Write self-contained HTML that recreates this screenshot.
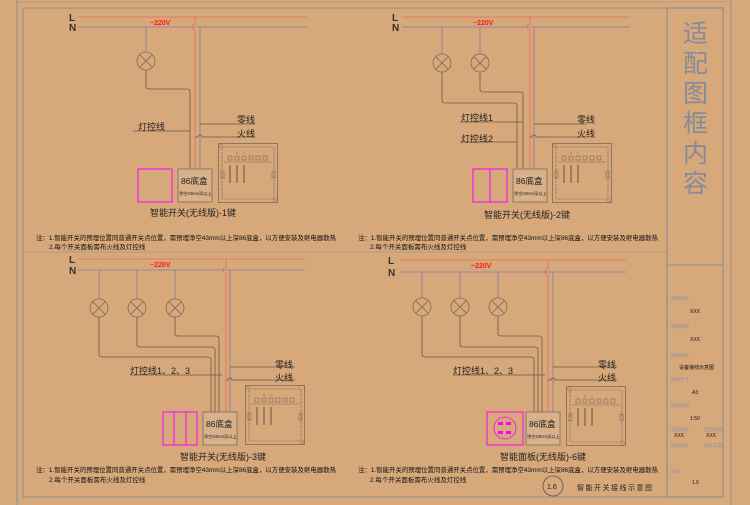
<!DOCTYPE html>
<html><head><meta charset="utf-8"><style>
html,body{margin:0;padding:0;background:#d6a87a;}
svg{display:block}
text{font-family:"Liberation Sans","Noto Sans CJK SC",sans-serif;}
</style></head><body>
<svg width="750" height="505" viewBox="0 0 750 505" xmlns="http://www.w3.org/2000/svg">
<rect width="750" height="505" fill="#d6a87a"/>
<defs>
<symbol id="panel" viewBox="0 0 60 60" width="60" height="60">
<rect x="0.5" y="0.5" width="59" height="59" fill="none" stroke="#7d6a5a" stroke-width="0.8"/>
<rect x="4" y="4" width="52" height="52" fill="none" stroke="#7d6a5a" stroke-width="0.6" stroke-dasharray="3,1"/>
<circle cx="3" cy="3" r="1.5" fill="none" stroke="#7d6a5a" stroke-width="0.5"/>
<circle cx="57" cy="57" r="1.5" fill="none" stroke="#7d6a5a" stroke-width="0.5"/>
<g fill="none" stroke="#7d6a5a" stroke-width="0.6">
<rect x="10" y="13" width="4" height="4"/><rect x="17" y="13" width="4" height="4"/><rect x="24" y="13" width="4" height="4"/><rect x="31" y="13" width="4" height="4"/><rect x="38" y="13" width="4" height="4"/><rect x="45" y="13" width="4" height="4"/>
<line x1="6" y1="19" x2="54" y2="19"/>
<rect x="3" y="28" width="3" height="7"/><rect x="54" y="28" width="3" height="7"/>
</g>
<g stroke="#4a3a30" stroke-width="0.8"><line x1="12" y1="22" x2="12" y2="40"/><line x1="19" y1="22" x2="19" y2="40"/><line x1="26" y1="22" x2="26" y2="40"/></g>
<circle cx="19" cy="10" r="0.8" fill="#e04040"/><circle cx="26" cy="10" r="0.8" fill="#40c040"/>
</symbol>
<symbol id="lamp" viewBox="-10 -10 20 20" width="20" height="20">
<circle r="9" fill="none" stroke="#7d6a5a" stroke-width="0.8"/>
<line x1="-6.3" y1="-6.3" x2="6.3" y2="6.3" stroke="#7d6a5a" stroke-width="0.8"/>
<line x1="6.3" y1="-6.3" x2="-6.3" y2="6.3" stroke="#7d6a5a" stroke-width="0.8"/>
</symbol>
</defs>

<g fill="none" stroke="#8e8f92" stroke-width="1">
<line x1="17" y1="0" x2="17" y2="505"/>
<rect x="23" y="8" width="644" height="489"/>
<line x1="23" y1="252" x2="667" y2="252" stroke-width="0.6"/>
<rect x="667" y="8" width="56" height="489" stroke-width="1.2"/>
<line x1="667" y1="265" x2="723" y2="265"/>
<line x1="731" y1="0" x2="731" y2="505"/>
<line x1="17" y1="2" x2="731" y2="2" stroke-width="0.6"/>
</g>

<g font-size="10" font-weight="bold" fill="#333">
<text x="69" y="21">L</text><text x="69" y="31">N</text>
<text x="392" y="21">L</text><text x="392" y="31">N</text>
<text x="69" y="263">L</text><text x="69" y="274">N</text>
<text x="388" y="264">L</text><text x="388" y="276">N</text>
</g>
<g font-size="7" fill="#ff1a1a" font-weight="bold">
<text x="150" y="25">~220V</text><text x="473" y="25">~220V</text>
<text x="150" y="267">~220V</text><text x="471" y="268">~220V</text>
</g>

<g fill="none" stroke-width="0.8">
<line x1="78" y1="17" x2="307" y2="17" stroke="#e8705a"/>
<line x1="78" y1="27" x2="307" y2="27" stroke="#8878b0"/>
<path d="M195 17 V24 A3 3 0 0 0 195 30 V168" stroke="#e8705a"/>
<line x1="200" y1="27" x2="200" y2="168" stroke="#8878b0"/>
<line x1="146" y1="27" x2="146" y2="52" stroke="#8878b0"/>
<path d="M146 70 V86 Q146 89 149 89 H187 Q190 89 190 92 V168" stroke="#6b5a4a"/>
<line x1="200" y1="124" x2="255" y2="124" stroke="#6b5a4a"/>
<path d="M195 137 H198 A2 2 0 0 1 202 137 H255" stroke="#6b5a4a"/>
<line x1="133" y1="131" x2="190" y2="131" stroke="#6b5a4a"/>
<line x1="402" y1="17" x2="630" y2="17" stroke="#e8705a"/>
<line x1="402" y1="27" x2="630" y2="27" stroke="#8878b0"/>
<path d="M530 17 V24 A3 3 0 0 0 530 30 V168" stroke="#e8705a"/>
<line x1="534" y1="27" x2="534" y2="168" stroke="#8878b0"/>
<line x1="442" y1="27" x2="442" y2="54" stroke="#8878b0"/>
<line x1="480" y1="27" x2="480" y2="54" stroke="#8878b0"/>
<path d="M442 72 V100 Q442 103 445 103 H514 Q517 103 517 106 V168" stroke="#6b5a4a"/>
<path d="M480 72 V89 Q480 92 483 92 H520 Q523 92 523 95 V168" stroke="#6b5a4a"/>
<line x1="460" y1="122" x2="523" y2="122" stroke="#6b5a4a"/>
<line x1="460" y1="142" x2="517" y2="142" stroke="#6b5a4a"/>
<line x1="534" y1="124" x2="586" y2="124" stroke="#6b5a4a"/>
<path d="M530 137 H532 A2 2 0 0 1 536 137 H586" stroke="#6b5a4a"/>
<line x1="78" y1="259" x2="305" y2="259" stroke="#e8705a"/>
<line x1="78" y1="270" x2="305" y2="270" stroke="#8878b0"/>
<path d="M226 259 V267 A3 3 0 0 0 226 273 V412" stroke="#e8705a"/>
<line x1="230" y1="270" x2="230" y2="412" stroke="#8878b0"/>
<line x1="99" y1="270" x2="99" y2="299" stroke="#8878b0"/>
<line x1="137" y1="270" x2="137" y2="299" stroke="#8878b0"/>
<line x1="175" y1="270" x2="175" y2="299" stroke="#8878b0"/>
<path d="M99 317 V354 Q99 357 102 357 H208 Q211 357 211 360 V412" stroke="#6b5a4a"/>
<path d="M137 317 V344 Q137 347 140 347 H212 Q215 347 215 350 V412" stroke="#6b5a4a"/>
<path d="M175 317 V333 Q175 336 178 336 H216 Q219 336 219 339 V412" stroke="#6b5a4a"/>
<line x1="130" y1="375" x2="222" y2="375" stroke="#6b5a4a"/>
<line x1="230" y1="367" x2="295" y2="367" stroke="#6b5a4a"/>
<path d="M226 380 H228 A2 2 0 0 1 232 380 H295" stroke="#6b5a4a"/>
<line x1="400" y1="260" x2="626" y2="260" stroke="#e8705a"/>
<line x1="400" y1="272" x2="626" y2="272" stroke="#8878b0"/>
<path d="M548 260 V269 A3 3 0 0 0 548 275 V412" stroke="#e8705a"/>
<line x1="553" y1="272" x2="553" y2="412" stroke="#8878b0"/>
<line x1="422" y1="272" x2="422" y2="298" stroke="#8878b0"/>
<line x1="460" y1="272" x2="460" y2="298" stroke="#8878b0"/>
<line x1="498" y1="272" x2="498" y2="298" stroke="#8878b0"/>
<path d="M422 316 V354 Q422 357 425 357 H531 Q534 357 534 360 V412" stroke="#6b5a4a"/>
<path d="M460 316 V344 Q460 347 463 347 H535 Q538 347 538 350 V412" stroke="#6b5a4a"/>
<path d="M498 316 V333 Q498 336 501 336 H539 Q542 336 542 339 V412" stroke="#6b5a4a"/>
<line x1="453" y1="375" x2="545" y2="375" stroke="#6b5a4a"/>
<line x1="553" y1="367" x2="617" y2="367" stroke="#6b5a4a"/>
<path d="M548 380 H551 A2 2 0 0 1 555 380 H617" stroke="#6b5a4a"/>
</g>

<use href="#lamp" x="136" y="51"/>
<use href="#lamp" x="432" y="53"/><use href="#lamp" x="470" y="53"/>
<use href="#lamp" x="89" y="298"/><use href="#lamp" x="127" y="298"/><use href="#lamp" x="165" y="298"/>
<use href="#lamp" x="412" y="297"/><use href="#lamp" x="450" y="297"/><use href="#lamp" x="488" y="297"/>

<use href="#panel" x="218" y="143"/>
<use href="#panel" x="552" y="143"/>
<use href="#panel" x="245" y="385"/>
<use href="#panel" x="566" y="386"/>

<g fill="none" stroke="#ff00ff" stroke-width="1">
<rect x="138" y="169" width="34" height="33"/>
<rect x="473" y="169" width="34" height="33"/><line x1="490" y1="169" x2="490" y2="202"/>
<rect x="163" y="412" width="34" height="33"/><line x1="174" y1="412" x2="174" y2="445"/><line x1="186" y1="412" x2="186" y2="445"/>
<rect x="487" y="412" width="36" height="33"/>
<circle cx="505" cy="428" r="11" stroke-width="0.8"/>
</g>
<g fill="#ff00ff"><rect x="498" y="422" width="5" height="3"/><rect x="506" y="422" width="5" height="3"/><rect x="498" y="431" width="5" height="3"/><rect x="506" y="431" width="5" height="3"/></g>

<g fill="#d8b08a" stroke="#7d6a5a" stroke-width="0.8">
<rect x="178" y="169" width="34" height="33"/>
<rect x="513" y="169" width="34" height="33"/>
<rect x="203" y="412" width="34" height="33"/>
<rect x="526" y="412" width="34" height="33"/>
</g>
<g fill="#222" font-size="8.5"><text x="181" y="184">86底盒</text><text x="516" y="184">86底盒</text><text x="206" y="427">86底盒</text><text x="529" y="427">86底盒</text></g>
<g fill="#222" font-size="4.2"><text x="179" y="195">净空43mm深以上</text><text x="514" y="195">净空43mm深以上</text><text x="204" y="438">净空43mm深以上</text><text x="527" y="438">净空43mm深以上</text></g>

<g fill="#222" font-size="9">
<text x="138" y="130">灯控线</text>
<text x="237" y="123">零线</text><text x="237" y="137">火线</text>
<text x="461" y="121">灯控线1</text><text x="461" y="142">灯控线2</text>
<text x="577" y="123">零线</text><text x="577" y="137">火线</text>
<text x="130" y="374">灯控线1、2、3</text>
<text x="275" y="368">零线</text><text x="275" y="381">火线</text>
<text x="453" y="374">灯控线1、2、3</text>
<text x="598" y="368">零线</text><text x="598" y="381">火线</text>
<text x="150" y="216">智能开关(无线版)-1键</text>
<text x="484" y="218">智能开关(无线版)-2键</text>
<text x="180" y="460">智能开关(无线版)-3键</text>
<text x="500" y="460">智能面板(无线版)-6键</text>
</g>
<g fill="#111" font-size="6.5">
<text x="36" y="240" textLength="300" lengthAdjust="spacingAndGlyphs">注：1.智能开关的预埋位置同普通开关点位置，需预埋净空43mm以上深86底盒，以方便安装及继电器散热</text>
<text x="49" y="249">2.每个开关面板需布火线及灯控线</text>
<text x="358" y="240" textLength="300" lengthAdjust="spacingAndGlyphs">注：1.智能开关的预埋位置同普通开关点位置，需预埋净空43mm以上深86底盒，以方便安装及继电器散热</text>
<text x="370" y="249">2.每个开关面板需布火线及灯控线</text>
<text x="36" y="472" textLength="300" lengthAdjust="spacingAndGlyphs">注：1.智能开关的预埋位置同普通开关点位置，需预埋净空43mm以上深86底盒，以方便安装及继电器散热</text>
<text x="49" y="482">2.每个开关面板需布火线及灯控线</text>
<text x="358" y="472" textLength="300" lengthAdjust="spacingAndGlyphs">注：1.智能开关的预埋位置同普通开关点位置，需预埋净空43mm以上深86底盒，以方便安装及继电器散热</text>
<text x="370" y="482">2.每个开关面板需布火线及灯控线</text>
</g>
<circle cx="553" cy="486" r="10" fill="none" stroke="#555" stroke-width="0.8"/>
<text x="547" y="489" font-size="7" fill="#222">1.6</text>
<text x="577" y="490" font-size="7" fill="#222" letter-spacing="1.5">智能开关接线示意图</text>

<g fill="#868c96" font-size="25">
<text x="683" y="42">适</text><text x="683" y="72">配</text><text x="683" y="102">图</text>
<text x="683" y="132">框</text><text x="683" y="162">内</text><text x="683" y="192">容</text>
</g>
<g fill="#8e94a0" font-size="4.5">
<text x="671" y="300">项目名称</text><text x="671" y="328">项目编码</text><text x="671" y="357">图纸名称</text>
<text x="671" y="381">图纸尺寸</text><text x="671" y="407">图纸比例</text><text x="671" y="431">当前版本</text>
<text x="704" y="431">出图日期</text><text x="671" y="447">图纸修订</text><text x="704" y="447">修订日期</text>
<text x="671" y="473">图号</text>
</g>
<g fill="#111" font-size="5">
<text x="690" y="313">XXX</text><text x="690" y="341">XXX</text>
<text x="679" y="369">设备接线示意图</text>
<text x="692" y="394">A3</text><text x="690" y="420">1:50</text>
<text x="674" y="437">XXX</text><text x="706" y="437">XXX</text>
<text x="692" y="484">1.6</text>
</g>
</svg>
</body></html>
